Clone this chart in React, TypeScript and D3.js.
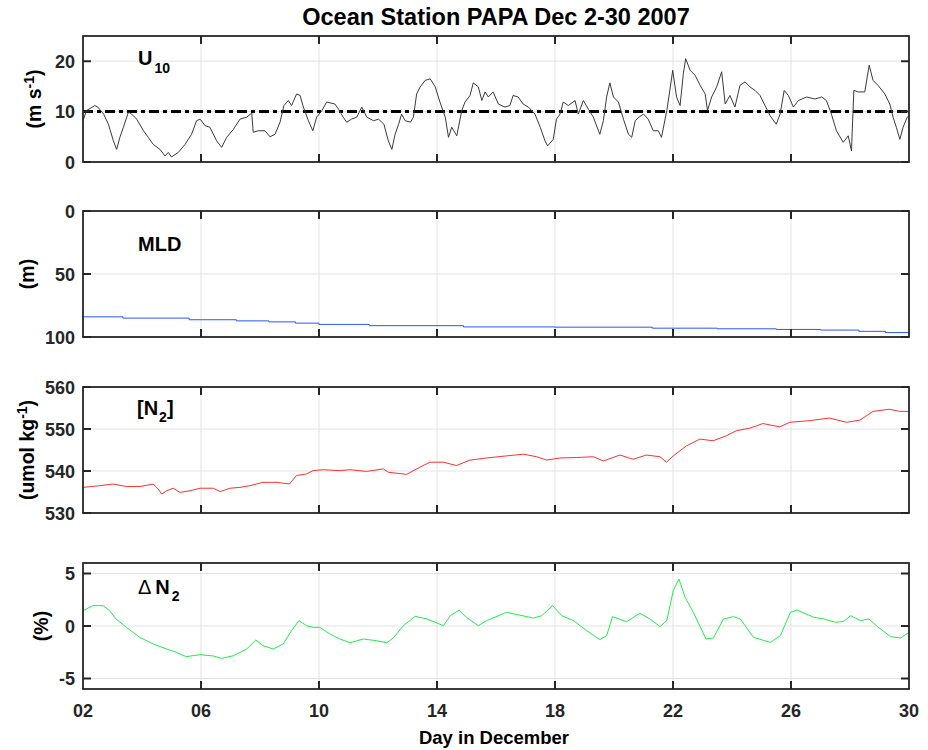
import React, { useEffect, useRef } from "react";
import * as d3 from "d3";

// wind speed at 10 m (m/s)
const u10Days = [2.0, 2.12, 2.4, 2.5, 2.7, 2.86, 3.03, 3.14, 3.25, 3.37, 3.54, 3.65, 3.82, 4.05, 4.21, 4.38, 4.61, 4.78, 4.89, 5.0, 5.23, 5.46, 5.68, 5.85, 5.97, 6.14, 6.3, 6.53, 6.7, 6.87, 7.1, 7.32, 7.55, 7.72, 7.77, 7.94, 8.17, 8.34, 8.51, 8.68, 8.81, 8.96, 9.07, 9.24, 9.36, 9.47, 9.64, 9.79, 9.92, 10.1, 10.26, 10.54, 10.66, 10.82, 10.94, 11.1, 11.28, 11.45, 11.62, 11.85, 12.02, 12.2, 12.35, 12.47, 12.58, 12.7, 12.8, 12.92, 13.1, 13.2, 13.31, 13.43, 13.6, 13.77, 13.94, 14.1, 14.28, 14.39, 14.5, 14.67, 14.84, 14.95, 15.12, 15.23, 15.4, 15.52, 15.63, 15.74, 15.9, 16.08, 16.3, 16.47, 16.58, 16.75, 16.92, 17.1, 17.32, 17.5, 17.66, 17.75, 17.94, 18.05, 18.17, 18.28, 18.45, 18.68, 18.79, 18.96, 19.13, 19.3, 19.52, 19.64, 19.75, 19.86, 19.98, 20.15, 20.32, 20.49, 20.6, 20.72, 20.85, 21.0, 21.16, 21.33, 21.5, 21.61, 21.79, 21.9, 21.99, 22.12, 22.24, 22.35, 22.43, 22.58, 22.75, 22.92, 23.09, 23.17, 23.31, 23.48, 23.65, 23.77, 23.93, 24.1, 24.27, 24.44, 24.61, 24.78, 24.95, 25.12, 25.29, 25.5, 25.63, 25.77, 25.91, 26.08, 26.25, 26.53, 26.81, 27.04, 27.2, 27.37, 27.54, 27.77, 27.94, 28.05, 28.13, 28.28, 28.5, 28.65, 28.78, 28.95, 29.18, 29.35, 29.46, 29.57, 29.69, 29.8, 29.94, 30.0];
const u10Values = [8.2, 10.2, 11.2, 10.9, 9.5, 7.5, 4.2, 2.5, 4.9, 6.9, 9.9, 9.5, 8.5, 6.2, 4.9, 3.5, 2.5, 1.2, 1.9, 1.0, 1.9, 3.5, 5.5, 8.2, 8.5, 7.2, 6.9, 4.2, 2.9, 4.9, 6.5, 8.5, 8.9, 9.7, 5.9, 6.2, 6.2, 5.0, 5.5, 7.9, 11.2, 12.2, 11.2, 13.5, 13.2, 10.9, 8.2, 6.2, 8.9, 10.2, 11.9, 11.5, 10.5, 8.9, 7.9, 8.5, 8.9, 10.9, 8.9, 8.2, 8.5, 7.5, 4.2, 2.5, 5.5, 7.5, 9.5, 8.2, 7.9, 8.9, 13.5, 14.9, 16.2, 16.5, 14.9, 11.9, 8.9, 4.9, 6.9, 5.2, 10.2, 11.9, 13.2, 15.7, 14.9, 12.2, 13.9, 12.9, 13.9, 11.5, 10.9, 11.2, 13.2, 12.9, 11.5, 10.9, 9.5, 6.9, 4.2, 3.2, 4.5, 8.5, 9.5, 11.9, 11.2, 12.2, 9.5, 12.2, 10.5, 8.9, 5.5, 8.2, 12.9, 15.7, 12.9, 11.9, 8.5, 5.5, 4.9, 8.2, 8.9, 9.5, 8.5, 6.2, 6.2, 4.9, 10.2, 14.5, 18.2, 12.9, 11.2, 17.5, 20.5, 18.2, 17.2, 15.2, 13.5, 10.2, 12.9, 14.9, 17.9, 11.5, 13.2, 10.9, 15.2, 15.9, 14.9, 14.2, 13.2, 11.2, 9.2, 7.5, 9.5, 14.2, 13.2, 10.9, 12.2, 12.9, 12.5, 12.9, 12.2, 9.5, 6.2, 3.9, 5.2, 2.2, 14.2, 13.9, 13.9, 19.2, 16.2, 15.2, 13.5, 11.5, 8.9, 6.9, 4.5, 6.9, 8.9, 9.0];

// mixed layer depth (m)
const mldDays = [2, 3.35, 5.6, 7.2, 8.3, 9.2, 10, 11.7, 14.9, 18, 21.3, 23.5, 25.5, 27, 28.3, 29.2, 30];
const mldValues = [84, 85, 86.3, 87.2, 88, 89, 90, 91, 92, 92.2, 93, 93.5, 94, 94.5, 95.5, 96.5, 97.5];

// dissolved N2 (umol/kg)
const n2Days = [2.0, 2.56, 3.02, 3.48, 3.93, 4.38, 4.55, 4.67, 4.84, 5.06, 5.29, 5.63, 5.97, 6.42, 6.65, 6.98, 7.32, 7.66, 8.1, 8.56, 9.0, 9.23, 9.57, 9.8, 10.14, 10.7, 11.05, 11.61, 12.18, 12.35, 12.97, 13.42, 13.76, 14.21, 14.66, 15.12, 15.68, 16.36, 16.93, 17.38, 17.72, 18.17, 18.73, 19.3, 19.64, 20.2, 20.65, 21.1, 21.56, 21.78, 22.01, 22.46, 22.91, 23.36, 23.81, 24.15, 24.6, 25.05, 25.62, 25.96, 26.64, 27.31, 27.88, 28.33, 28.78, 29.34, 29.68, 30.0];
const n2Values = [536.1, 536.5, 536.9, 536.3, 536.3, 536.9, 535.7, 534.5, 535.3, 535.9, 534.9, 535.3, 535.9, 535.9, 535.1, 535.9, 536.1, 536.5, 537.3, 537.3, 536.9, 538.9, 539.3, 540.1, 540.3, 540.1, 540.3, 539.9, 540.5, 539.7, 539.2, 540.9, 542.1, 542.1, 541.3, 542.6, 543.1, 543.6, 544.0, 543.4, 542.6, 543.1, 543.2, 543.4, 542.4, 543.8, 542.8, 543.8, 543.4, 542.1, 543.6, 546.0, 547.6, 547.2, 548.4, 549.6, 550.2, 551.3, 550.5, 551.6, 552.0, 552.6, 551.6, 552.1, 554.2, 554.7, 554.2, 554.2];

// N2 saturation anomaly (%)
const dn2Days = [2.0, 2.34, 2.68, 2.9, 3.12, 3.47, 3.92, 4.38, 4.83, 5.17, 5.5, 5.96, 6.42, 6.7, 7.1, 7.55, 7.86, 8.1, 8.45, 8.79, 9.07, 9.32, 9.58, 9.81, 10.03, 10.37, 10.71, 11.05, 11.5, 11.95, 12.3, 12.52, 12.86, 13.26, 13.66, 14.22, 14.45, 14.75, 15.0, 15.4, 15.68, 16.36, 17.27, 17.55, 17.92, 18.23, 18.63, 19.07, 19.52, 19.75, 19.95, 20.43, 20.88, 21.22, 21.56, 21.79, 22.01, 22.2, 22.41, 22.69, 23.12, 23.37, 23.71, 24.05, 24.28, 24.73, 25.3, 25.64, 25.98, 26.2, 26.77, 27.11, 27.51, 27.79, 28.02, 28.36, 28.64, 28.93, 29.38, 29.72, 30.0];
const dn2Values = [1.46, 1.94, 1.94, 1.46, 0.67, -0.13, -1.08, -1.71, -2.19, -2.51, -2.92, -2.73, -2.86, -3.08, -2.83, -2.19, -1.33, -1.87, -2.19, -1.71, -0.44, 0.51, 0.03, -0.13, -0.13, -0.76, -1.24, -1.59, -1.24, -1.4, -1.59, -1.14, 0.03, 0.92, 0.67, 0.03, 0.98, 1.52, 0.83, 0.03, 0.51, 1.3, 0.76, 0.98, 1.94, 0.98, 0.51, -0.44, -1.3, -0.92, 0.89, 0.41, 1.21, 0.67, -0.06, 0.51, 3.37, 4.48, 2.73, 1.3, -1.24, -1.14, 0.67, 0.89, 0.67, -1.08, -1.56, -0.92, 1.3, 1.52, 0.83, 0.67, 0.35, 0.44, 0.98, 0.51, 0.67, -0.06, -1.02, -1.14, -0.6];

const dayTicks = [2, 6, 10, 14, 18, 22, 26, 30];
const u10Ticks = [0, 10, 20];
const mldTicks = [0, 50, 100];
const n2Ticks = [530, 540, 550, 560];
const dn2Ticks = [-5, 0, 5];
const windThreshold = 10;

const FONT = "'Liberation Sans', Arial, Helvetica, sans-serif";
const INK = "#262626";

export default function App() {
  const ref = useRef<SVGSVGElement>(null);

  useEffect(() => {
    const svg = d3.select(ref.current);
    svg.selectAll("*").remove();

    const left = 83;
    const right = 909;
    const panelH = 126;
    const x = d3.scaleLinear().domain([2, 30]).range([left, right]);

    const panels = [
      { top: 36, domain: [0, 25], ticks: u10Ticks, days: u10Days, values: u10Values, color: "#3a3a3a", curve: d3.curveLinear },
      { top: 211, domain: [100, 0], ticks: mldTicks, days: mldDays, values: mldValues, color: "#2a55ff", curve: d3.curveStepAfter },
      { top: 387, domain: [530, 560], ticks: n2Ticks, days: n2Days, values: n2Values, color: "#ff3030", curve: d3.curveLinear },
      { top: 563, domain: [-6, 6], ticks: dn2Ticks, days: dn2Days, values: dn2Values, color: "#1eee4a", curve: d3.curveLinear },
    ];

    panels.forEach((p, i) => {
      const bottom = p.top + panelH;
      const y = d3.scaleLinear().domain(p.domain).range([bottom, p.top]);
      const g = svg.append("g");

      // grid
      g.selectAll(".vgrid")
        .data(dayTicks.slice(1, -1))
        .enter()
        .append("line")
        .attr("x1", d => x(d)).attr("x2", d => x(d))
        .attr("y1", p.top).attr("y2", bottom)
        .attr("stroke", "#e3e3e3").attr("stroke-width", 1);
      g.selectAll(".hgrid")
        .data(p.ticks)
        .enter()
        .append("line")
        .attr("x1", left).attr("x2", right)
        .attr("y1", d => y(d)).attr("y2", d => y(d))
        .attr("stroke", "#e3e3e3").attr("stroke-width", 1);

      // threshold line for wind
      if (i === 0) {
        g.append("line")
          .attr("x1", left).attr("x2", right)
          .attr("y1", y(windThreshold)).attr("y2", y(windThreshold))
          .attr("stroke", "#000").attr("stroke-width", 3)
          .attr("stroke-dasharray", "10,4,4,4");
      }

      const line = d3.line<number>()
        .x((d, k) => x(p.days[k]))
        .y(d => y(d))
        .curve(p.curve);
      g.append("path")
        .datum(p.values)
        .attr("d", line)
        .attr("fill", "none")
        .attr("stroke", p.color)
        .attr("stroke-width", 1);

      // ticks (inward, all sides)
      g.selectAll(".xt")
        .data(dayTicks.slice(1, -1))
        .enter()
        .append("path")
        .attr("d", d => `M${x(d)},${p.top}v8M${x(d)},${bottom}v-8`)
        .attr("stroke", INK).attr("stroke-width", 2);
      g.selectAll(".yt")
        .data(p.ticks)
        .enter()
        .append("path")
        .attr("d", d => `M${left},${y(d)}h8M${right},${y(d)}h-8`)
        .attr("stroke", INK).attr("stroke-width", 2);

      // frame
      g.append("rect")
        .attr("x", left).attr("y", p.top)
        .attr("width", right - left).attr("height", panelH)
        .attr("fill", "none").attr("stroke", INK).attr("stroke-width", 1.8);

      // y tick labels
      g.selectAll(".yl")
        .data(p.ticks)
        .enter()
        .append("text")
        .attr("x", left - 8)
        .attr("y", d => y(d) + 6.5)
        .attr("text-anchor", "end")
        .style("font-family", FONT).style("font-weight", "bold").style("font-size", "18px")
        .attr("fill", INK)
        .text(d => String(d));

      if (i === 3) {
        g.selectAll(".xl")
          .data(dayTicks)
          .enter()
          .append("text")
          .attr("x", d => x(d))
          .attr("y", bottom + 28)
          .attr("text-anchor", "middle")
          .style("font-family", FONT).style("font-weight", "bold").style("font-size", "18px")
          .attr("fill", INK)
          .text(d => d3.format("02d")(d));
      }
    });

    const bold = (sel: d3.Selection<SVGTextElement, unknown, null, undefined>, size: number) =>
      sel.style("font-family", FONT).style("font-weight", "bold").style("font-size", `${size}px`).attr("fill", "#000");

    // panel labels
    const u = bold(svg.append("text").attr("x", 138).attr("y", 65), 20);
    u.append("tspan").text("U");
    u.append("tspan").attr("dx", 2).attr("dy", 8).style("font-size", "14px").text("10");

    bold(svg.append("text").attr("x", 138).attr("y", 251), 20).text("MLD");

    const n = bold(svg.append("text").attr("x", 137).attr("y", 415), 20);
    n.append("tspan").text("[N");
    n.append("tspan").attr("dx", 1).attr("dy", 7).style("font-size", "14px").text("2");
    n.append("tspan").attr("dy", -7).text("]");

    const dn = bold(svg.append("text").attr("x", 138).attr("y", 594), 20);
    dn.append("tspan").style("font-weight", "normal").text("\u0394");
    dn.append("tspan").attr("dx", 4).text("N");
    dn.append("tspan").attr("dx", 2).attr("dy", 7).style("font-size", "14px").text("2");

    // y axis labels
    const ylab = (cx: number, cy: number) =>
      bold(svg.append("text").attr("transform", `translate(${cx},${cy}) rotate(-90)`).attr("text-anchor", "middle"), 19.5);

    const l1 = ylab(41, 99);
    l1.append("tspan").text("(m s");
    l1.append("tspan").attr("dy", -7).style("font-size", "14px").text("-1");
    l1.append("tspan").attr("dy", 7).text(")");

    ylab(34, 274).text("(m)");

    const l3 = ylab(34, 450);
    l3.append("tspan").text("(umol kg");
    l3.append("tspan").attr("dy", -7).style("font-size", "14px").text("-1");
    l3.append("tspan").attr("dy", 7).text(")");

    ylab(48, 626).text("(%)");

    // title and x label
    bold(svg.append("text").attr("x", 496).attr("y", 25).attr("text-anchor", "middle"), 23.5)
      .text("Ocean Station PAPA Dec 2-30 2007");
    bold(svg.append("text").attr("x", 494).attr("y", 744).attr("text-anchor", "middle"), 18.5)
      .text("Day in December");
  }, []);

  return (
    <svg
      ref={ref}
      width={928}
      height={750}
      style={{ position: "absolute", left: 0, top: 0, background: "#fff" }}
    />
  );
}
